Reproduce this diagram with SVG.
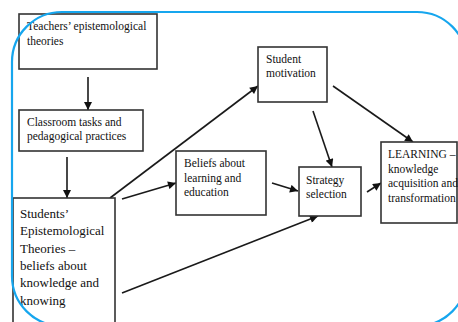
<svg xmlns="http://www.w3.org/2000/svg" width="458" height="322" viewBox="0 0 458 322">
<defs>
<marker id="ah" viewBox="0 0 10 10" refX="10" refY="5" markerWidth="9" markerHeight="8" markerUnits="userSpaceOnUse" orient="auto">
<path d="M0,0 L10,5 L0,10 z" fill="#111"/>
</marker>
<style>
.box{fill:#fff;stroke:#333;stroke-width:1.6}
.t{font-family:"Liberation Serif","Times New Roman",serif;font-size:11.5px;fill:#111}
.tl{font-family:"Liberation Serif","Times New Roman",serif;font-size:13px;fill:#111}
.c{stroke:#1a1a1a;stroke-width:1.6;fill:none;marker-end:url(#ah)}
.frame{fill:none;stroke:#16a6ee;stroke-width:2.2}
</style>
</defs>
<rect width="458" height="322" fill="#fff"/>
<g id="connectors">
<line class="c" x1="88" y1="77" x2="88" y2="110"/>
<line class="c" x1="67" y1="157" x2="67" y2="198"/>
<line class="c" x1="110" y1="198" x2="258" y2="86"/>
<line class="c" x1="122" y1="199" x2="176" y2="183"/>
<line class="c" x1="272" y1="183" x2="298" y2="191"/>
<line class="c" x1="313" y1="111" x2="332" y2="167"/>
<line class="c" x1="333" y1="86" x2="413" y2="142"/>
<line class="c" x1="367" y1="192" x2="381" y2="183"/>
<line class="c" x1="122" y1="293" x2="318" y2="216"/>
</g>
<g id="teachers">
<rect class="box" x="19" y="14" width="138" height="55"/>
<text class="t" x="27" y="30">Teachers’ epistemological</text>
<text class="t" x="27" y="45">theories</text>
</g>
<g id="classroom">
<rect class="box" x="19" y="110" width="124" height="41"/>
<text class="t" x="27" y="126">Classroom tasks and</text>
<text class="t" x="27" y="140">pedagogical practices</text>
</g>
<g id="students">
<rect class="box" x="13" y="198" width="102" height="130"/>
<text class="tl" x="20" y="218">Students’</text>
<text class="tl" x="20" y="235">Epistemological</text>
<text class="tl" x="20" y="253">Theories –</text>
<text class="tl" x="20" y="270">beliefs about</text>
<text class="tl" x="20" y="287">knowledge and</text>
<text class="tl" x="20" y="305">knowing</text>
</g>
<g id="motivation">
<rect class="box" x="258" y="47" width="69" height="55"/>
<text class="t" x="266" y="63">Student</text>
<text class="t" x="266" y="77">motivation</text>
</g>
<g id="beliefs">
<rect class="box" x="176" y="151" width="90" height="64"/>
<text class="t" x="184" y="167">Beliefs about</text>
<text class="t" x="184" y="182">learning and</text>
<text class="t" x="184" y="196">education</text>
</g>
<g id="strategy">
<rect class="box" x="299" y="167" width="62" height="49"/>
<text class="t" x="306" y="184">Strategy</text>
<text class="t" x="306" y="198">selection</text>
</g>
<g id="learning">
<rect class="box" x="381" y="142" width="76" height="81"/>
<text class="t" x="388" y="158" font-size="11.5">LEARNING –</text>
<text class="t" x="388" y="173" font-size="10.5">knowledge</text>
<text class="t" x="388" y="187" font-size="10.8">acquisition and</text>
<text class="t" x="388" y="202" font-size="10.8">transformation</text>
</g>
<rect class="frame" x="12" y="12" width="455" height="314" rx="50" ry="50"/>
</svg>
